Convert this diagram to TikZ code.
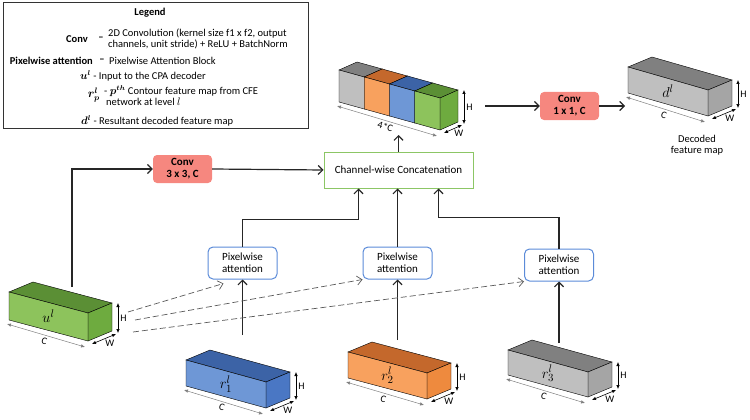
\documentclass[tikz,border=0pt]{standalone}
\usepackage{fontspec}
\setmainfont{Carlito}
\usepackage{bm}
\usetikzlibrary{arrows.meta,calc,positioning}

\definecolor{convpink}{HTML}{F6877F}
\definecolor{catgreen}{HTML}{8CC665}
\definecolor{pablue}{HTML}{5B8BD8}
\definecolor{grnfront}{HTML}{8DC35C}
\definecolor{grntop}{HTML}{5B8F35}
\definecolor{grnside}{HTML}{6EAB3F}
\definecolor{blufront}{HTML}{6E97D6}
\definecolor{blutop}{HTML}{3C63A6}
\definecolor{bluside}{HTML}{4A77C4}
\definecolor{orgfront}{HTML}{F8A15E}
\definecolor{orgtop}{HTML}{C4682C}
\definecolor{orgside}{HTML}{EE8A3E}
\definecolor{gryfront}{HTML}{BFBFBF}
\definecolor{grytop}{HTML}{808080}
\definecolor{gryside}{HTML}{A5A5A5}

\newcommand{\wx}{24}
\newcommand{\wy}{-10}
\newcommand{\cuboid}[7]{%
  \path (#2) coordinate (#1-flt) ++(#3) coordinate (#1-frt)
    ++(0,#4) coordinate (#1-frb) (#1-flt) ++(0,#4) coordinate (#1-flb);
  \filldraw[fill=#6] (#1-flt) -- ++(\wx,\wy) -- ++(#3) -- (#1-frt) -- cycle;
  \filldraw[fill=#7] (#1-frt) -- ++(\wx,\wy) -- ++(0,#4) -- (#1-frb) -- cycle;
  \filldraw[fill=#5] (#1-flt) -- (#1-frt) -- (#1-frb) -- (#1-flb) -- cycle;
}
\newcommand{\cubedims}[2]{%
  \draw[dimline] ($(#1-flb)+(-2,4)$) -- node[below,sloped,dimtext] {#2} ($(#1-frb)+(-3,6)$);
  \draw[dimarrow] ($(#1-frt)+(\wx,\wy)+(6,0)$) -- node[right,dimtext] {H} ($(#1-frb)+(\wx,\wy)+(6,2)$);
  \draw[dimarrow] ($(#1-frb)+(4,3)$) -- node[below right,dimtext,inner sep=1pt] {W} ($(#1-frb)+(\wx,\wy)+(4,3)$);
}

\begin{document}
\begin{tikzpicture}[x=1pt, y=-1pt,
  every node/.style={font=\fontsize{11}{11}\selectfont, inner sep=2pt},
  legtext/.style={font=\fontsize{10.5}{11}\selectfont, align=left},
  convbox/.style={fill=convpink, rounded corners=4pt, align=center, minimum width=59pt, minimum height=28pt, font=\bfseries\fontsize{11}{12}\selectfont, inner sep=0pt},
  catbox/.style={draw=catgreen, line width=1pt, fill=white, minimum width=149pt, minimum height=36pt},
  pabox/.style={draw=pablue, line width=1pt, rounded corners=5pt, align=center, minimum width=69pt, minimum height=32pt, font=\fontsize{11}{12}\selectfont, inner sep=0pt},
  maplabel/.style={font=\fontsize{15}{15}\selectfont},
  dimtext/.style={font=\fontsize{10}{10}\selectfont},
  dimline/.style={draw=gray, line width=0.5pt, {Latex[length=4pt,width=3.5pt]}-{Latex[length=4pt,width=3.5pt]}},
  dimarrow/.style={line width=0.6pt, {Latex[length=4pt,width=3.5pt]}-{Latex[length=4pt,width=3.5pt]}},
  flow/.style={line width=1.2pt, draw=black!85, -{Straight Barb[length=4.5pt,width=9pt]}},
  skiplink/.style={line width=0.7pt, draw=black!65, dash pattern=on 6pt off 3pt, -{Straight Barb[length=5pt,width=9pt]}}]

\useasboundingbox (0,0) rectangle (750,420);

\draw[line width=1pt, draw=black!80] (3,3) rectangle (308,128);
\node[font=\bfseries\fontsize{10.5}{11}\selectfont] (leg-title) at (150,13) {Legend};
\node[legtext, anchor=east] (leg-conv) at (90,39) {\textbf{Conv}};
\node[legtext] (leg-dash1) at (101,39) {\textbf{--}};
\node[legtext, anchor=west] (leg-convtxt) at (106,39) {2D Convolution (kernel size f1 x f2, output\\channels, unit stride) + ReLU + BatchNorm};
\node[legtext, anchor=east] (leg-pa) at (95,61) {\textbf{Pixelwise attention}};
\node[legtext] (leg-dash2) at (102,61) {\textbf{--}};
\node[legtext, anchor=west] (leg-patxt) at (107,61) {Pixelwise Attention Block};
\node[legtext, anchor=west] (leg-u) at (78,76) {$\bm{u^l}$ - Input to the CPA decoder};
\node[legtext, anchor=east, font=\fontsize{12}{12}\selectfont, inner sep=0pt] (leg-r) at (100,95) {$\bm{r^l_p}$};
\node[legtext, anchor=west] (leg-rtxt) at (102,96) {- $\bm{p^{th}}$ Contour feature map from CFE\\\hspace*{2pt}network at level $l$};
\node[legtext, anchor=west] (leg-d) at (79,121) {$\bm{d^l}$ - Resultant decoded feature map};

\begin{scope}
\renewcommand{\wx}{18}
\renewcommand{\wy}{-8}
\foreach \col [count=\i from 0] in {gry,org,blu,grn}
  \cuboid{cat\i}{339+25.25*\i,70+7*\i}{25.25,7}{32}{\col front}{\col top}{\col side}
\coordinate (cat-flb) at (cat0-flb);
\coordinate (cat-frb) at (cat3-frb);
\coordinate (cat-frt) at (cat3-frt);
\cubedims{cat}{4*C}
\end{scope}

\cuboid{d}{628,67}{80,23}{26}{gryfront}{grytop}{gryside}
\node[maplabel] (d-lbl) at ($(d-flt)!0.5!(d-frb)$) {$d^l$};
\cubedims{d}{C}
\node[align=center, font=\fontsize{10.5}{11.5}\selectfont] (dec-cap) at (697,145) {Decoded\\feature map};

\cuboid{u}{9,292}{79,21}{28}{grnfront}{grntop}{grnside}
\node[maplabel] (u-lbl) at ($(u-flt)!0.5!(u-frb)$) {$u^l$};
\cubedims{u}{C}

\cuboid{ra}{186,360}{80,22}{26}{blufront}{blutop}{bluside}
\node[maplabel] (ra-lbl) at ($(ra-flt)!0.5!(ra-frb)$) {$r^l_1$};
\cubedims{ra}{C}

\cuboid{rb}{348,352}{79,21}{26}{orgfront}{orgtop}{orgside}
\node[maplabel] (rb-lbl) at ($(rb-flt)!0.5!(rb-frb)$) {$r^l_2$};
\cubedims{rb}{C}

\cuboid{rc}{508,350}{80,22}{25}{gryfront}{grytop}{gryside}
\node[maplabel] (rc-lbl) at ($(rc-flt)!0.5!(rc-frb)$) {$r^l_3$};
\cubedims{rc}{C}

\node[convbox] (conv3) at (182.5,169) {Conv\\3 x 3, C};
\node[convbox] (conv1) at (569.5,106) {Conv\\1 x 1, C};
\node[catbox] (concat) at (398.5,170) {Channel-wise Concatenation};
\node[pabox] (pa1) at (242.5,263) {Pixelwise\\attention};
\node[pabox] (pa2) at (397.5,263) {Pixelwise\\attention};
\node[pabox] (pa3) at (559,265) {Pixelwise\\attention};

\coordinate (u-out) at (72,287);
\coordinate (cat-in) at (398.5,135);
\coordinate (cat-out) at (485,106);
\coordinate (d-in) at (625,106);
\coordinate (ra-out) at (242.5,335);
\coordinate (rb-out) at (397.5,340);
\coordinate (rc-out) at (559,343);
\coordinate (u-s1) at (128,312);
\coordinate (u-s2) at (135,320);
\coordinate (u-s3) at (133,332);

\draw[flow] (u-out) |- (conv3.west);
\draw[flow] (conv3.east) -- (concat.west);
\draw[flow] (concat.north) -- (cat-in);
\draw[flow] (cat-out) -- (conv1.west);
\draw[flow] (conv1.east) -- (d-in);

\draw[flow] (pa1.north) -- ++(0,-27) -| ($(concat.south)+(-40,0)$);
\draw[flow] (pa2.north) -- (pa2 |- concat.south);
\draw[flow] (pa3.north) -- ++(0,-31) -| ($(concat.south)+(40,0)$);

\draw[flow] (ra-out) -- (pa1.south);
\draw[flow] (rb-out) -- (pa2.south);
\draw[flow] (rc-out) -- (pa3.south);

\draw[skiplink] (u-s1) -- ($(pa1.south west)+(16,4)$);
\draw[skiplink] (u-s2) -- (pa2.south west);
\draw[skiplink] (u-s3) -- (pa3.south west);

\end{tikzpicture}
\end{document}
